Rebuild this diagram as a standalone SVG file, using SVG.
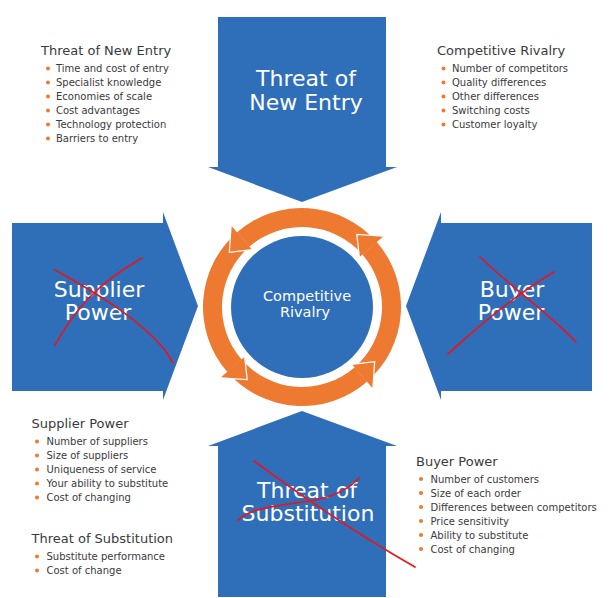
<svg xmlns="http://www.w3.org/2000/svg" width="612" height="598" viewBox="0 0 612 598">
<style>
.blue{fill:#2F6EB9}
.ring{fill:#EE7A31}
.edge{fill:none;stroke:#FFFFFF;stroke-width:1.2}
.big{font-family:"DejaVu Sans",sans-serif;font-size:22px;fill:#FFFFFF;text-anchor:middle}
.mid{font-family:"DejaVu Sans",sans-serif;font-size:14.5px;fill:#FFFFFF;text-anchor:middle}
.h{font-family:"DejaVu Sans",sans-serif;font-size:13px;fill:#3A3A3A}
.li{font-family:"DejaVu Sans",sans-serif;font-size:10px;fill:#3A3A3A}
.dot{fill:#EE7A31}
.x{fill:none;stroke:#E8151D;stroke-width:1.7;stroke-linecap:round}
</style>
<rect width="612" height="598" fill="#FFFFFF"/>

<g id="arrow-new-entry">
<polygon class="blue" points="218,17 386,17 386,167 397,167 302,202 208,167 218,167"/>
<text class="big" x="306" y="86">Threat of</text>
<text class="big" x="306" y="110">New Entry</text>
</g>

<g id="arrow-supplier">
<polygon class="blue" points="12,223 163,223 163,212 198,306 163,400 163,391 12,391"/>
<text class="big" x="99" y="297">Supplier</text>
<text class="big" x="98" y="320">Power</text>
<path class="x" d="M55,270 C100,295 140,320 165,350 L173,363"/>
<path class="x" d="M55,345 C75,310 95,285 142,258"/>
</g>

<g id="arrow-buyer">
<polygon class="blue" points="592,223 441,223 441,212 406,306 441,400 441,391 592,391"/>
<text class="big" x="512" y="297">Buyer</text>
<text class="big" x="511" y="320">Power</text>
<path class="x" d="M480,257 C520,295 545,310 576,342"/>
<path class="x" d="M448,354 C485,320 520,292 554,272"/>
</g>

<g id="arrow-substitution">
<polygon class="blue" points="302,411 397,446 386,446 386,597 218,597 218,446 208,446"/>
<text class="big" x="307" y="498">Threat of</text>
<text class="big" x="308" y="521">Substitution</text>
<path class="x" d="M254,461 C300,495 350,530 415,567"/>
<path class="x" d="M238,520 C255,505 290,505 315,500 C335,496 350,488 359,478"/>
</g>

<g id="cycle">
<path class="ring" d="M376.72,242.05 A99,99 0 0 0 237.05,232.28 L249.51,246.62 A80,80 0 0 1 362.38,254.51 Z"/>
<path class="ring" d="M237.05,232.28 A99,99 0 0 0 227.28,371.95 L241.62,359.49 A80,80 0 0 1 249.51,246.62 Z"/>
<path class="ring" d="M227.28,371.95 A99,99 0 0 0 366.95,381.72 L354.49,367.38 A80,80 0 0 1 241.62,359.49 Z"/>
<path class="ring" d="M366.95,381.72 A99,99 0 0 0 376.72,242.05 L362.38,254.51 A80,80 0 0 1 354.49,367.38 Z"/>
<polygon class="ring" points="231.14,225.49 252.14,249.64 229.33,252.24"/>
<polyline class="edge" points="231.14,225.49 229.33,252.24 252.14,249.64"/>
<polygon class="ring" points="220.49,377.86 244.64,356.86 247.24,379.67"/>
<polyline class="edge" points="220.49,377.86 247.24,379.67 244.64,356.86"/>
<polygon class="ring" points="372.86,388.51 351.86,364.36 374.67,361.76"/>
<polyline class="edge" points="372.86,388.51 374.67,361.76 351.86,364.36"/>
<polygon class="ring" points="383.51,236.14 359.36,257.14 356.76,234.33"/>
<polyline class="edge" points="383.51,236.14 356.76,234.33 359.36,257.14"/>
</g>

<g id="center-rivalry">
<circle class="blue" cx="302" cy="307" r="71"/>
<text class="mid" x="307" y="301">Competitive</text>
<text class="mid" x="305" y="317">Rivalry</text>
</g>

<g id="list-new-entry">
<text class="h" x="41" y="55">Threat of New Entry</text>
<circle class="dot" cx="48" cy="68.5" r="2"/><text class="li" x="56" y="72">Time and cost of entry</text>
<circle class="dot" cx="48" cy="82.5" r="2"/><text class="li" x="56" y="86">Specialist knowledge</text>
<circle class="dot" cx="48" cy="96.5" r="2"/><text class="li" x="56" y="100">Economies of scale</text>
<circle class="dot" cx="48" cy="110.5" r="2"/><text class="li" x="56" y="114">Cost advantages</text>
<circle class="dot" cx="48" cy="124.5" r="2"/><text class="li" x="56" y="128">Technology protection</text>
<circle class="dot" cx="48" cy="138.5" r="2"/><text class="li" x="56" y="142">Barriers to entry</text>
</g>

<g id="list-rivalry">
<text class="h" x="437" y="55">Competitive Rivalry</text>
<circle class="dot" cx="443.5" cy="68.5" r="2"/><text class="li" x="452" y="72">Number of competitors</text>
<circle class="dot" cx="443.5" cy="82.5" r="2"/><text class="li" x="452" y="86">Quality differences</text>
<circle class="dot" cx="443.5" cy="96.5" r="2"/><text class="li" x="452" y="100">Other differences</text>
<circle class="dot" cx="443.5" cy="110.5" r="2"/><text class="li" x="452" y="114">Switching costs</text>
<circle class="dot" cx="443.5" cy="124.5" r="2"/><text class="li" x="452" y="128">Customer loyalty</text>
</g>

<g id="list-supplier">
<text class="h" x="31.5" y="428">Supplier Power</text>
<circle class="dot" cx="37" cy="441.5" r="2"/><text class="li" x="46.5" y="445">Number of suppliers</text>
<circle class="dot" cx="37" cy="455.5" r="2"/><text class="li" x="46.5" y="459">Size of suppliers</text>
<circle class="dot" cx="37" cy="469.5" r="2"/><text class="li" x="46.5" y="473">Uniqueness of service</text>
<circle class="dot" cx="37" cy="483.5" r="2"/><text class="li" x="46.5" y="487">Your ability to substitute</text>
<circle class="dot" cx="37" cy="497.5" r="2"/><text class="li" x="46.5" y="501">Cost of changing</text>
</g>

<g id="list-substitution">
<text class="h" x="31.5" y="542.5">Threat of Substitution</text>
<circle class="dot" cx="37" cy="556.5" r="2"/><text class="li" x="46.5" y="560">Substitute performance</text>
<circle class="dot" cx="37" cy="570.5" r="2"/><text class="li" x="46.5" y="574">Cost of change</text>
</g>

<g id="list-buyer">
<text class="h" x="416" y="466">Buyer Power</text>
<circle class="dot" cx="421" cy="479" r="2"/><text class="li" x="430.5" y="482.5">Number of customers</text>
<circle class="dot" cx="421" cy="493" r="2"/><text class="li" x="430.5" y="496.5">Size of each order</text>
<circle class="dot" cx="421" cy="507" r="2"/><text class="li" x="430.5" y="510.5">Differences between competitors</text>
<circle class="dot" cx="421" cy="521" r="2"/><text class="li" x="430.5" y="524.5">Price sensitivity</text>
<circle class="dot" cx="421" cy="535" r="2"/><text class="li" x="430.5" y="538.5">Ability to substitute</text>
<circle class="dot" cx="421" cy="549" r="2"/><text class="li" x="430.5" y="552.5">Cost of changing</text>
</g>
</svg>
